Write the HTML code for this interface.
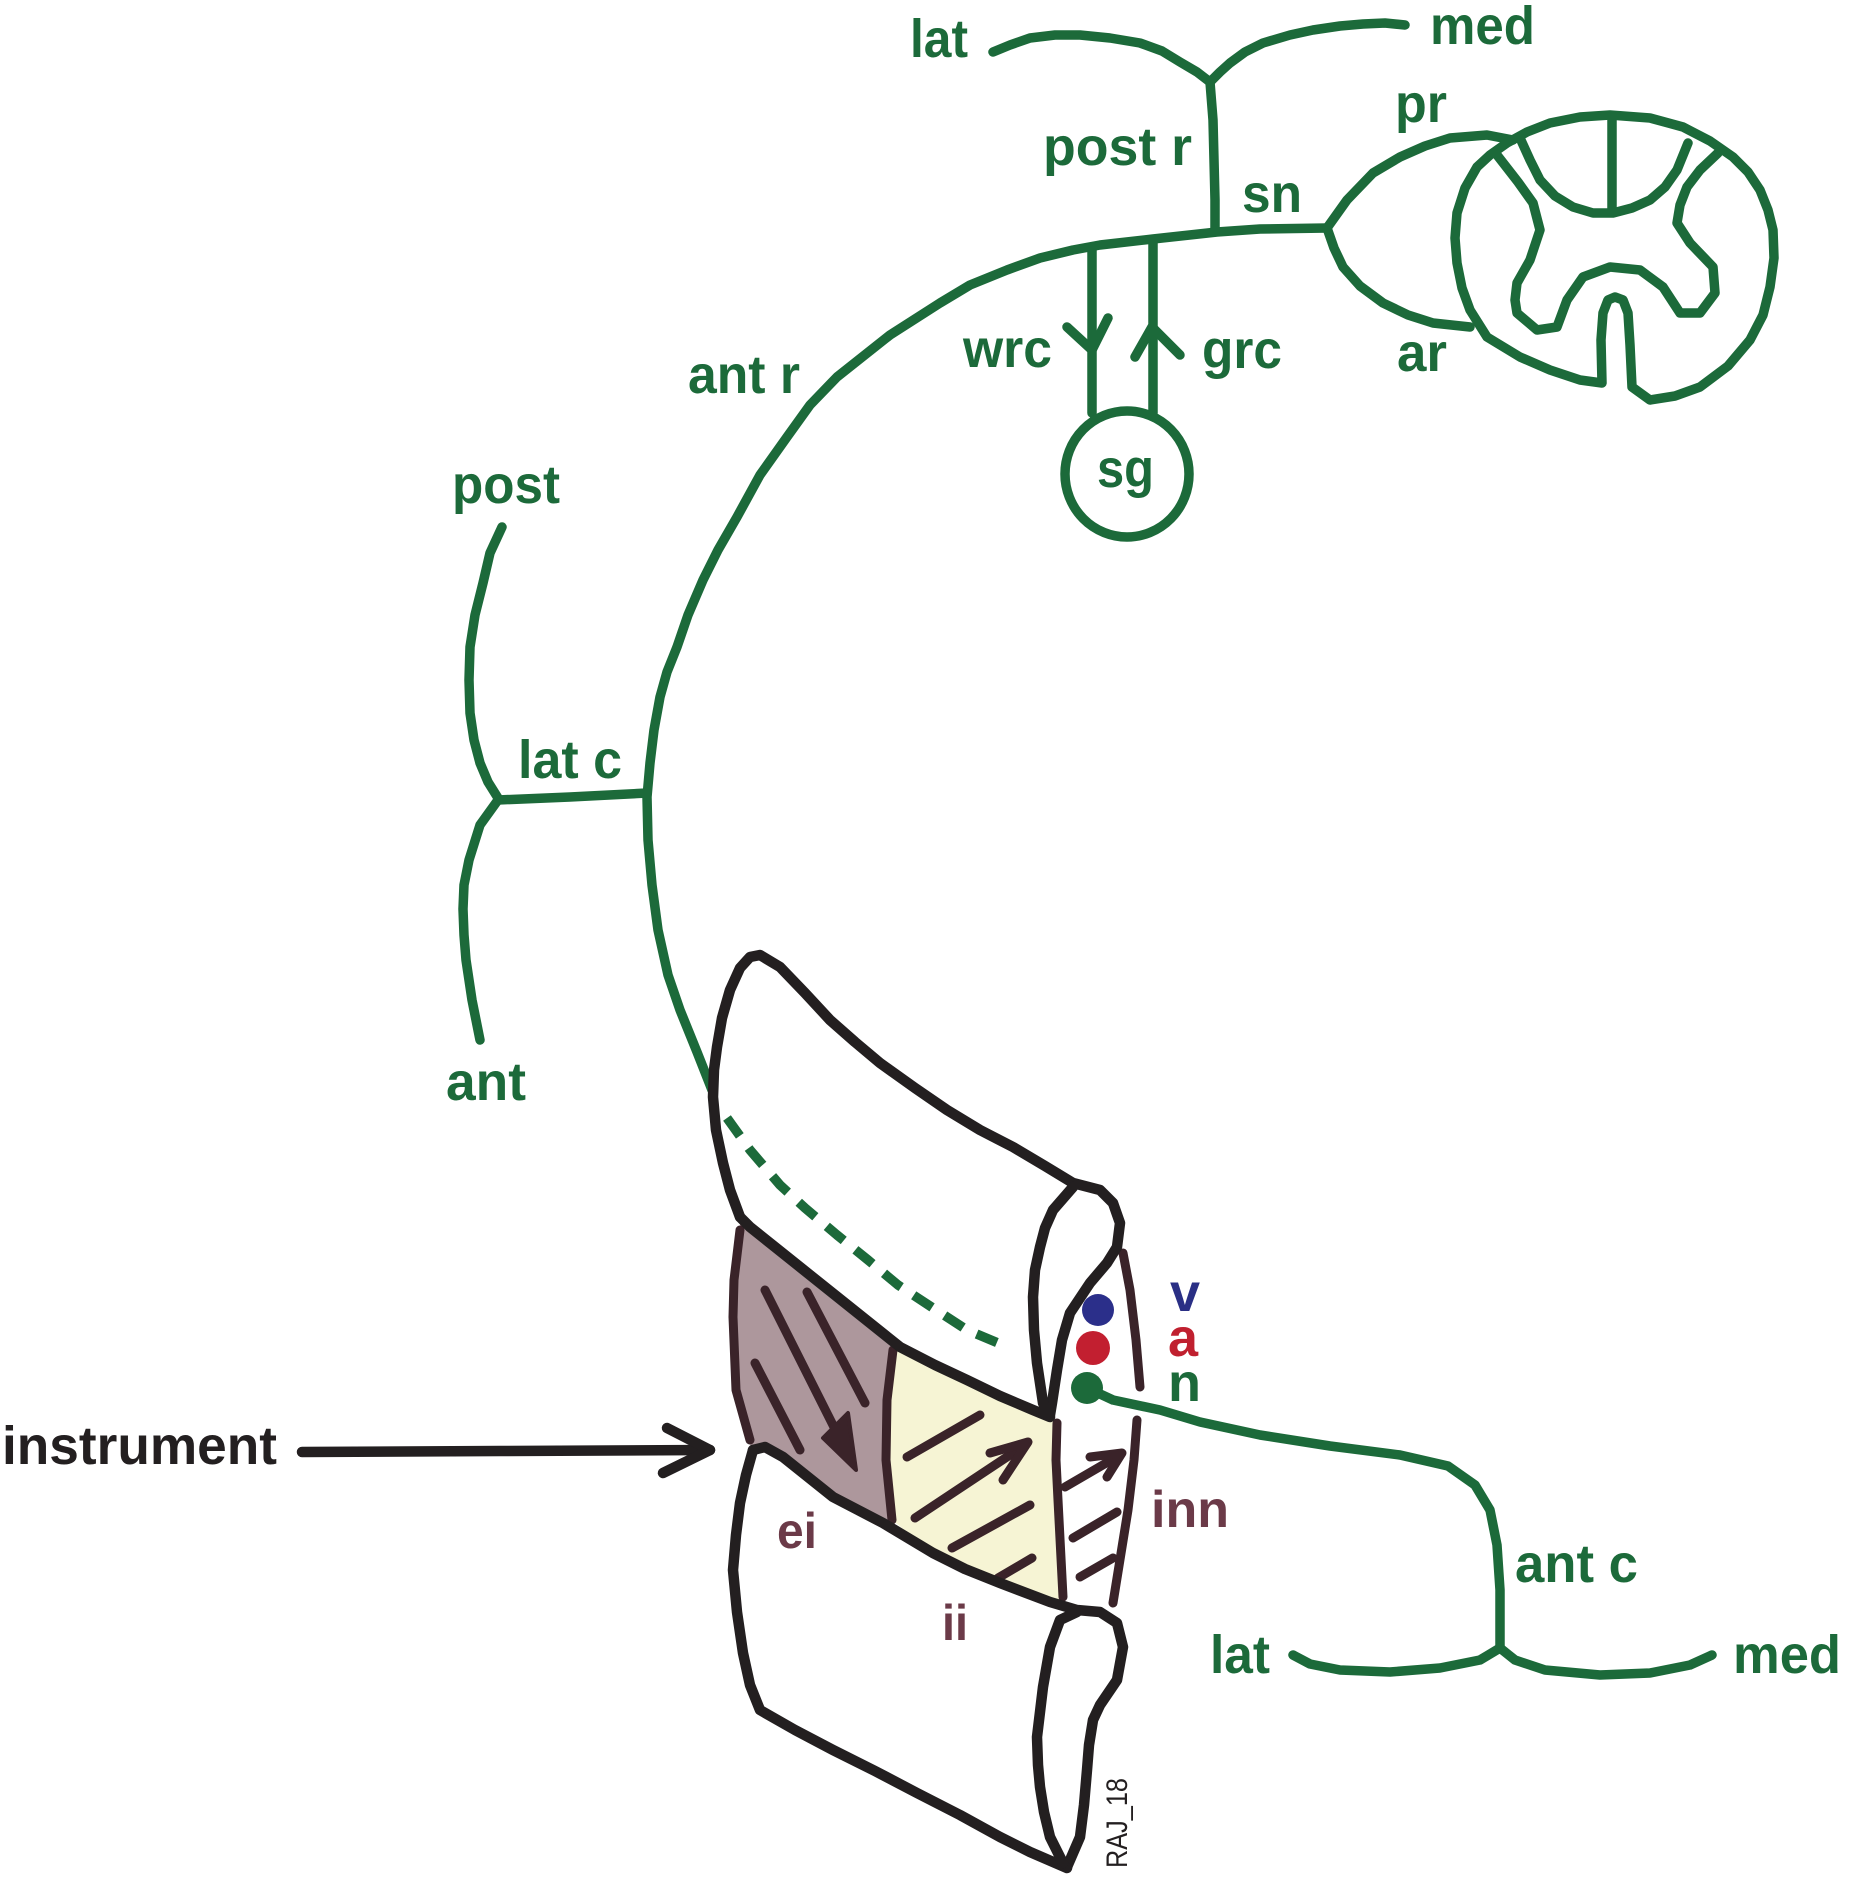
<!DOCTYPE html>
<html>
<head>
<meta charset="utf-8">
<style>
  html,body{margin:0;padding:0;background:#ffffff;}
  svg{display:block;}
  .g{font-family:"Liberation Sans",Arial,sans-serif;font-weight:bold;}
</style>
</head>
<body>
<svg width="1853" height="1883" viewBox="0 0 1853 1883" xmlns="http://www.w3.org/2000/svg">
  <rect width="1853" height="1883" fill="#ffffff"/>

  <!-- muscle fills -->
  <polygon fill="#ad979c" points="740,1222 800,1267 850,1307 893,1345 887,1400 887,1460 892,1520 883,1523 833,1497 783,1457 753,1450 748,1440 737,1390 733,1317 740,1230"/>
  <polygon fill="#f6f4d4" points="893,1345 967,1380 1033,1410 1053,1417 1058,1500 1063,1600 1050,1602 1000,1583 933,1553 892,1520 887,1460 887,1400"/>

  <g fill="none" stroke-linecap="round" stroke-linejoin="round">
    <!-- ===== GREEN NERVES ===== -->
    <g stroke="#1c6a3a" stroke-width="9.5">
      <!-- top lat / med branches -->
      <path d="M993,52 L1010,45 L1030,38 L1055,35 L1080,35 L1110,38 L1140,43 L1162,51 L1180,62 L1197,72 L1210,82"/>
      <path d="M1210,82 L1220,72 L1230,63 L1245,52 L1263,43 L1290,35 L1313,30 L1340,26 L1363,24 L1385,23 L1405,25"/>
      <!-- post r -->
      <path d="M1210,82 L1213,120 L1214,160 L1215,200 L1215,228"/>
      <!-- spinal nerve + ant r big arc -->
      <path d="M1327,228 L1260,229 L1217,232 L1153,239 L1100,245 L1073,250 L1040,258 L1007,270 L970,285 L940,303 L890,335 L837,377 L810,405 L787,437 L760,475 L737,517 L718,550 L703,580 L688,615 L677,647 L667,672 L660,697 L654,730 L650,763 L647,797 L648,840 L652,885 L658,930 L668,975 L680,1010 L697,1052 L712,1090"/>
      <!-- dashed continuation -->
      <path stroke-dasharray="22 15" stroke-linecap="butt" d="M727,1118 L750,1150 L780,1185 L805,1208 L837,1235 L868,1260 L898,1285 L933,1308 L967,1330 L1010,1348"/>
      <!-- wrc -->
      <path d="M1092,250 L1092,413"/>
      <path d="M1067,327 L1092,350 L1108,318"/>
      <!-- grc -->
      <path d="M1153,243 L1153,413"/>
      <path d="M1135,357 L1152,327 L1180,355"/>
      <!-- sg -->
      <ellipse cx="1127" cy="474" rx="62" ry="63"/>
      <!-- roots lens -->
      <path d="M1327,228 L1347,200 L1373,173 L1400,157 L1425,146 L1450,138 L1487,135 L1513,140"/>
      <path d="M1327,228 L1334,248 L1343,267 L1360,286 L1383,303 L1408,315 L1433,323 L1470,327"/>
      <!-- cord outer with fissure -->
      <path d="M1487,337 L1520,357 L1550,370 L1580,380 L1602,383 L1601,340 L1603,313 L1608,300 L1615,297 L1623,300 L1628,313 L1630,345 L1632,387 L1650,400 L1675,396 L1700,387 L1728,366 L1750,340 L1763,315 L1770,287 L1774,258 L1773,230 L1768,210 L1760,190 L1748,172 L1733,157 L1710,141 L1683,127 L1650,118 L1610,115 L1580,117 L1550,123 L1527,132 L1507,143 L1490,155 L1477,167 L1465,188 L1457,213 L1455,238 L1457,263 L1462,288 L1470,310 L1487,337 Z"/>
      <!-- posterior columns -->
      <path d="M1520,138 L1530,160 L1540,180 L1555,196 L1573,207 L1593,213 L1613,213 L1632,208 L1650,200 L1665,187 L1677,170 L1688,143"/>
      <path d="M1612,118 L1612,212"/>
      <!-- grey matter -->
      <path d="M1497,155 L1518,182 L1533,203 L1540,230 L1530,260 L1517,283 L1515,300 L1517,313 L1537,330 L1557,327 L1567,300 L1583,277 L1610,267 L1640,270 L1663,287 L1680,313 L1700,313 L1715,293 L1713,267 L1690,243 L1677,223 L1680,205 L1687,187 L1700,170 L1718,153"/>
      <!-- left branches -->
      <path d="M502,527 L490,553 L483,583 L475,615 L470,647 L469,680 L470,713 L474,740 L480,763 L488,782 L498,798"/>
      <path d="M498,800 L570,797 L647,793"/>
      <path d="M498,800 L480,825 L469,860 L464,885 L463,909 L464,935 L466,960 L472,1000 L480,1040"/>
      <!-- anterior cutaneous branch -->
      <path d="M1087,1388 L1113,1400 L1160,1410 L1200,1422 L1260,1435 L1330,1446 L1400,1455 L1448,1466 L1475,1485 L1490,1510 L1497,1545 L1500,1590 L1500,1648"/>
      <path d="M1500,1648 L1480,1660 L1440,1668 L1390,1672 L1340,1670 L1310,1664 L1293,1655"/>
      <path d="M1500,1648 L1515,1660 L1545,1670 L1600,1675 L1650,1673 L1690,1665 L1712,1655"/>
    </g>

    <!-- ===== MUSCLE LINES ===== -->
    <g stroke="#3a2329" stroke-width="9">
      <path d="M740,1230 L734,1280 L733,1317 L736,1390 L750,1440"/>
      <path d="M893,1350 L887,1400 L886,1460 L892,1520"/>
      <path d="M1057,1423 L1056,1460 L1058,1500 L1063,1597"/>
      <path d="M1123,1253 L1130,1290 L1136,1340 L1140,1387"/>
      <path d="M1137,1420 L1134,1460 L1128,1510 L1113,1603"/>
      <!-- ei fibres -->
      <path d="M765,1290 L848,1455"/>
      <path d="M807,1292 L865,1403"/>
      <path d="M755,1363 L800,1450"/>
      <!-- ii fibres -->
      <path d="M907,1457 L980,1415"/>
      <path d="M915,1518 L1025,1445"/>
      <path d="M990,1453 L1028,1442 L1003,1480"/>
      <path d="M952,1548 L1030,1505"/>
      <path d="M998,1578 L1032,1558"/>
      <!-- inn fibres -->
      <path d="M1065,1487 L1120,1455"/>
      <path d="M1090,1457 L1122,1453 L1107,1477"/>
      <path d="M1073,1538 L1117,1512"/>
      <path d="M1080,1577 L1113,1558"/>
    </g>
    <polygon fill="#3a2329" stroke="#3a2329" stroke-width="4" points="823,1438 848,1413 856,1470"/>

    <!-- ===== BLACK RIBS ===== -->
    <g stroke="#231f20" stroke-width="10.5">
      <!-- upper rib -->
      <path d="M740,1217 L730,1190 L723,1163 L716,1130 L713,1097 L714,1070 L717,1047 L722,1018 L730,990 L740,968 L750,957 L760,955 L780,967 L805,993 L830,1020 L855,1042 L880,1063 L915,1088 L947,1110 L980,1130 L1013,1147 L1045,1166 L1073,1183 L1100,1190 L1113,1203 L1120,1223 L1117,1247 L1107,1263 L1090,1283 L1070,1313 L1062,1340 L1057,1370 L1052,1403 L1050,1415"/>
      <path d="M740,1217 L750,1227 L775,1247 L800,1267 L850,1307 L900,1347 L935,1365 L967,1380 L1000,1396 L1033,1410 L1050,1417"/>
      <path d="M1073,1187 L1053,1210 L1045,1228 L1040,1247 L1035,1270 L1033,1297 L1034,1330 L1037,1363 L1043,1403 L1047,1412"/>
      <!-- lower rib -->
      <path d="M753,1450 L765,1447 L783,1457 L808,1477 L833,1497 L858,1510 L883,1523 L933,1553 L965,1569 L1000,1583 L1050,1602 L1077,1610 L1100,1612 L1117,1623 L1123,1647 L1117,1680 L1100,1705 L1093,1720 L1089,1745 L1087,1770 L1084,1805 L1080,1837 L1067,1867"/>
      <path d="M1067,1868 L1030,1852 L1000,1837 L960,1815 L917,1793 L875,1771 L833,1750 L795,1730 L760,1710 L750,1685 L743,1653 L737,1612 L733,1570 L736,1535 L740,1503 L746,1475 L753,1450"/>
      <path d="M1077,1612 L1060,1620 L1050,1647 L1043,1687 L1037,1737 L1038,1765 L1040,1787 L1044,1812 L1050,1837 L1063,1863"/>
      <!-- instrument arrow -->
      <path d="M302,1452 L500,1451 L710,1450"/>
      <path d="M667,1428 L710,1450 L663,1473"/>
    </g>
  </g>

  <!-- vessels / nerve dots -->
  <circle cx="1098" cy="1310" r="16" fill="#2b2f8a"/>
  <circle cx="1093" cy="1348" r="17" fill="#c21f30"/>
  <circle cx="1087" cy="1388" r="16" fill="#1c6a3a"/>

  <!-- ===== LABELS ===== -->
  <g class="g" fill="#1c6a3a" font-size="54">
    <text x="910" y="57" textLength="58" lengthAdjust="spacingAndGlyphs">lat</text>
    <text x="1430" y="44" textLength="105" lengthAdjust="spacingAndGlyphs">med</text>
    <text x="1043" y="165" textLength="149" lengthAdjust="spacingAndGlyphs">post r</text>
    <text x="1242" y="212" textLength="60" lengthAdjust="spacingAndGlyphs">sn</text>
    <text x="1395" y="122" textLength="52" lengthAdjust="spacingAndGlyphs">pr</text>
    <text x="1397" y="371" textLength="50" lengthAdjust="spacingAndGlyphs">ar</text>
    <text x="963" y="367" textLength="89" lengthAdjust="spacingAndGlyphs">wrc</text>
    <text x="1202" y="368" textLength="80" lengthAdjust="spacingAndGlyphs">grc</text>
    <text x="1097" y="487" textLength="57" lengthAdjust="spacingAndGlyphs">sg</text>
    <text x="688" y="393" textLength="112" lengthAdjust="spacingAndGlyphs">ant r</text>
    <text x="452" y="503" textLength="108" lengthAdjust="spacingAndGlyphs">post</text>
    <text x="518" y="778" textLength="104" lengthAdjust="spacingAndGlyphs">lat c</text>
    <text x="446" y="1100" textLength="80" lengthAdjust="spacingAndGlyphs">ant</text>
    <text x="1168" y="1401">n</text>
    <text x="1515" y="1582" textLength="123" lengthAdjust="spacingAndGlyphs">ant c</text>
    <text x="1210" y="1673" textLength="60" lengthAdjust="spacingAndGlyphs">lat</text>
    <text x="1733" y="1673" textLength="108" lengthAdjust="spacingAndGlyphs">med</text>
  </g>
  <text class="g" x="1170" y="1311" font-size="54" fill="#2a2f85">v</text>
  <text class="g" x="1168" y="1356" font-size="54" fill="#c0202f">a</text>
  <g class="g" fill="#6b3a48">
    <text x="1151" y="1527" font-size="52" textLength="78" lengthAdjust="spacingAndGlyphs">inn</text>
    <text x="777" y="1548" font-size="50" textLength="40" lengthAdjust="spacingAndGlyphs">ei</text>
    <text x="942" y="1640" font-size="50" textLength="26" lengthAdjust="spacingAndGlyphs">ii</text>
  </g>
  <text class="g" x="2" y="1464" font-size="54" fill="#231f20" textLength="275" lengthAdjust="spacingAndGlyphs">instrument</text>
  <text x="0" y="0" transform="translate(1127,1868) rotate(-90)" font-family="Liberation Sans, Arial, sans-serif" font-size="30" fill="#231f20" textLength="90" lengthAdjust="spacingAndGlyphs">RAJ_18</text>
</svg>
</body>
</html>
